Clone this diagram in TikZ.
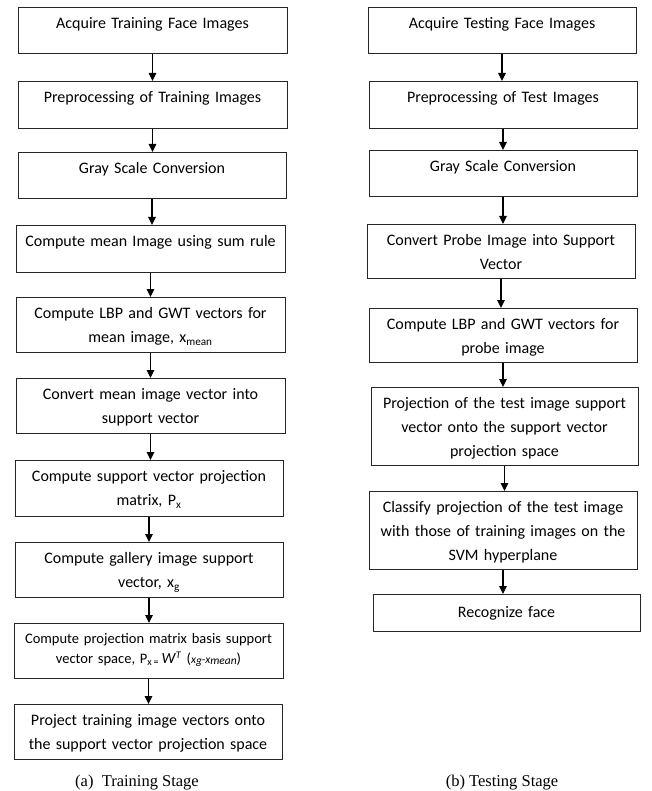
\documentclass[tikz,border=0pt]{standalone}
\usepackage{fontspec}
\setmainfont{Carlito}
\newfontfamily\capfont{Liberation Serif}
\usetikzlibrary{arrows.meta}
\begin{document}
\begin{tikzpicture}[x=1pt,y=-1pt,
 box/.style={draw=black!85, line width=0.9pt, inner xsep=4pt, inner ysep=0pt, align=center, anchor=north, text height=21.5pt, font=\fontsize{16}{24}\selectfont},
 smallbox/.style={box, text height=20pt, font=\fontsize{14.5}{20}\selectfont},
 arr/.style={-{Triangle[length=8pt,width=7.5pt]}, line width=1.2pt},
 captext/.style={anchor=base, font=\capfont\fontsize{16.5}{20}\selectfont}]
\useasboundingbox (0,0) rectangle (651,791);
% training
\node[box, text width=261pt, text depth=24.5pt] (L1) at (152.5,7) {Acquire Training Face Images};
\node[box, text width=261pt, text depth=25.5pt] (L2) at (152.5,81) {Preprocessing of Training Images};
\node[box, text width=260pt, text depth=24.5pt] (L3) at (152,152) {Gray Scale Conversion};
\node[box, text width=261pt, text depth=25.5pt] (L4) at (150.5,225) {Compute mean Image using sum rule};
\node[box, text width=261pt, text depth=33.5pt] (L5) at (150.5,297) {Compute LBP and GWT vectors for\\ mean image, x\textsubscript{mean}};
\node[box, text width=261pt, text depth=33.5pt] (L6) at (150.5,378) {Convert mean image vector into\\ support vector};
\node[box, text width=260pt, text depth=34.5pt] (L7) at (149,460) {Compute support vector projection\\ matrix, P\textsubscript{x}};
\node[box, text width=260pt, text depth=33.5pt] (L8) at (149,542) {Compute gallery image support\\ vector, x\textsubscript{g}};
\node[smallbox, text width=261pt, text depth=35pt] (L9) at (148.5,623) {Compute projection matrix basis support\\ vector space, P\textsubscript{x\,=}\,{\fontsize{15.5}{20}\selectfont\textit{W}}\textsuperscript{\textit{T}} ({\fontsize{11.5}{14}\selectfont\itshape x\raisebox{-1.5pt}{g}-x\raisebox{-1.5pt}{mean}})};
\node[box, text width=260pt, text depth=33.5pt] (L10) at (148,704) {Project training image vectors onto\\ the support vector projection space};
% testing
\node[box, text width=260pt, text depth=24.5pt] (R1) at (502,7) {Acquire Testing Face Images};
\node[box, text width=260pt, text depth=25.5pt] (R2) at (503,81) {Preprocessing of Test Images};
\node[box, text width=260pt, text depth=24.5pt] (R3) at (503,150) {Gray Scale Conversion};
\node[box, text width=260pt, text depth=32.5pt] (R4) at (501,224) {Convert Probe Image into Support\\ Vector};
\node[box, text width=260pt, text depth=32.5pt] (R5) at (503,308) {Compute LBP and GWT vectors for\\ probe image};
\node[box, text width=259pt, text depth=56.5pt] (R6) at (504.5,387) {Projection of the test image support\\ vector onto the support vector\\ projection space};
\node[box, text width=260pt, text depth=56.5pt] (R7) at (503,491) {Classify projection of the test image\\ with those of training images on the\\ SVM hyperplane};
\node[box, text width=259pt, text height=23pt, text depth=14pt] (R8) at (506.5,594) {Recognize face};
% arrows
\foreach \a/\b in {L1/L2,L2/L3,L3/L4,L4/L5,L5/L6,L6/L7,L7/L8,L8/L9,L9/L10,R1/R2,R2/R3,R3/R4,R4/R5,R5/R6,R6/R7,R7/R8}
  \draw[arr] (\a.south) -- (\a.south |- \b.north);
% captions
\node[captext] (capA) at (137,786) {(a)\enspace Training Stage};
\node[captext] (capB) at (502,786) {(b) Testing Stage};
\end{tikzpicture}
\end{document}
